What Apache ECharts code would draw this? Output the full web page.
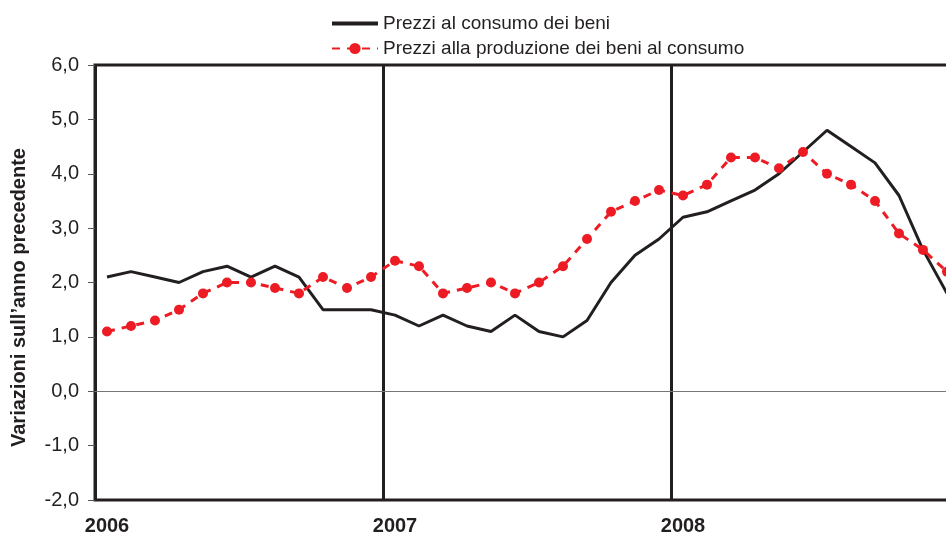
<!doctype html>
<html>
<head>
    <meta charset="utf-8">
    <title>Prezzi al consumo e alla produzione</title>
    <style>
        html, body { margin: 0; padding: 0; background: #fff; }
        #main { width: 946px; height: 535px; }
    </style>
</head>
<body>
    <div id="main"></div>
    <script src="https://cdn.jsdelivr.net/npm/echarts@6/dist/echarts.min.js"></script>
    <script type="text/javascript">
        // anni e mesi (asse X)
        var years = ['2006', '2007', '2008'];
        var months = ['01', '02', '03', '04', '05', '06', '07', '08', '09', '10', '11', '12'];
        var categories = [];
        years.forEach(function (y) {
            months.forEach(function (m) { categories.push(y + '-' + m); });
        });

        // Prezzi al consumo dei beni
        var consumo = [2.1, 2.2, 2.1, 2.0, 2.2, 2.3, 2.1, 2.3, 2.1, 1.5, 1.5, 1.5,
                       1.4, 1.2, 1.4, 1.2, 1.1, 1.4, 1.1, 1.0, 1.3, 2.0, 2.5, 2.8,
                       3.2, 3.3, 3.5, 3.7, 4.0, 4.4, 4.8, 4.5, 4.2, 3.6, 2.6, 1.8];
        // Prezzi alla produzione dei beni al consumo
        var produzione = [1.1, 1.2, 1.3, 1.5, 1.8, 2.0, 2.0, 1.9, 1.8, 2.1, 1.9, 2.1,
                          2.4, 2.3, 1.8, 1.9, 2.0, 1.8, 2.0, 2.3, 2.8, 3.3, 3.5, 3.7,
                          3.6, 3.8, 4.3, 4.3, 4.1, 4.4, 4.0, 3.8, 3.5, 2.9, 2.6, 2.2];

        var yTicks = { min: -2, max: 6, step: 1 };
        var font = '"Liberation Sans", Arial, sans-serif';

        var myChart = echarts.init(document.getElementById('main'));
        var option = {
            animation: false,
            textStyle: { fontFamily: font },
            legend: {
                orient: 'vertical',
                left: 326,
                top: 9,
                itemWidth: 46,
                itemHeight: 14,
                itemGap: 6,
                textStyle: { fontSize: 19, color: '#231f20', fontFamily: font },
                data: [
                    { name: 'Prezzi al consumo dei beni', icon: 'path://M0,0L46,0L46,4L0,4Z' },
                    { name: 'Prezzi alla produzione dei beni al consumo' }
                ]
            },
            grid: {
                left: 95,
                top: 65,
                width: 864,
                height: 435,
                show: true,
                borderColor: '#231f20',
                borderWidth: 3,
                containLabel: false,
                outerBoundsMode: 'none'
            },
            xAxis: {
                type: 'category',
                boundaryGap: true,
                data: categories,
                axisLine: { show: false },
                axisTick: { show: false },
                axisLabel: {
                    interval: 11,
                    margin: 16,
                    fontSize: 20,
                    fontWeight: 'bold',
                    color: '#231f20',
                    fontFamily: font,
                    formatter: function (v) { return v.slice(0, 4); }
                },
                splitLine: {
                    show: true,
                    interval: 11,
                    lineStyle: { color: '#231f20', width: 3 }
                }
            },
            yAxis: {
                type: 'value',
                min: yTicks.min,
                max: yTicks.max,
                interval: yTicks.step,
                name: 'Variazioni sull’anno precedente',
                nameLocation: 'middle',
                nameGap: 66,
                nameTextStyle: {
                    fontSize: 20,
                    fontWeight: 'bold',
                    color: '#231f20',
                    fontFamily: font,
                    padding: [0, 30, 0, 0]
                },
                axisLine: { show: false },
                axisTick: { show: true, length: 7, lineStyle: { color: '#555', width: 1 } },
                axisLabel: {
                    margin: 16,
                    fontSize: 20,
                    color: '#231f20',
                    fontFamily: font,
                    formatter: function (v) { return v.toFixed(1).replace('.', ','); }
                },
                splitLine: { show: false }
            },
            series: [
                {
                    name: 'Prezzi al consumo dei beni',
                    type: 'line',
                    data: consumo,
                    symbol: 'none',
                    lineStyle: { color: '#231f20', width: 3 },
                    itemStyle: { color: '#231f20' },
                    z: 3,
                    markLine: {
                        silent: true,
                        symbol: 'none',
                        label: { show: false },
                        lineStyle: { color: '#777', width: 1, type: 'solid' },
                        data: [{ yAxis: 0 }]
                    }
                },
                {
                    name: 'Prezzi alla produzione dei beni al consumo',
                    type: 'line',
                    data: produzione,
                    symbol: 'circle',
                    symbolSize: 10,
                    showSymbol: true,
                    lineStyle: { color: '#ed1c24', width: 3, type: [8, 7] },
                    itemStyle: { color: '#ed1c24' },
                    z: 4
                }
            ]
        };

        myChart.setOption(option);
    </script>
</body>
</html>
